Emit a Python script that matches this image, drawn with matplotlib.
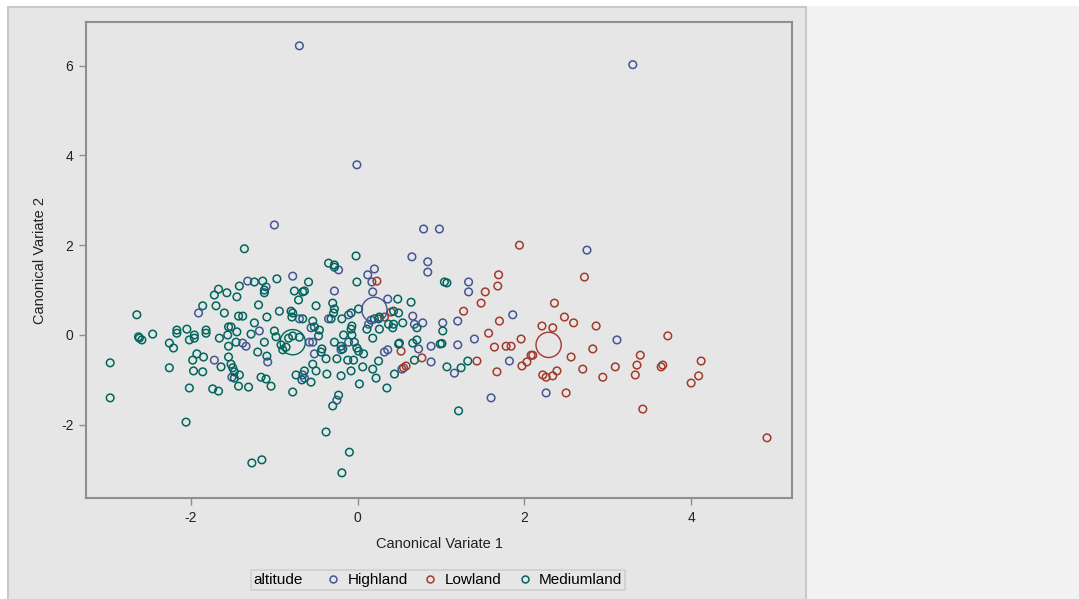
import matplotlib
matplotlib.use("Agg")
import matplotlib.pyplot as plt
from matplotlib.patches import Rectangle
from matplotlib.lines import Line2D
from matplotlib.offsetbox import HPacker

plt.rcParams['font.family'] = ['Liberation Sans', 'DejaVu Sans']
plt.rcParams['axes.unicode_minus'] = False

groups = ["Highland", "Lowland", "Mediumland"]
colors = ["#445694", "#A23A2E", "#01665E"]

# Highland
high_x = [-0.70, 3.30, -0.01, -1.00, 0.79, 0.98, 2.75, 0.65, 0.84, 0.84,
          1.33, 1.33, 1.86, 1.20, 1.02, 1.40, 1.20, 1.82, 1.16, 1.60,
          2.26, 3.11, 0.66, 0.78, 0.73, 0.88, 0.53, 0.88, -0.23, 0.20,
          0.12, 0.17, 0.18, -0.78, -0.28, 0.36, -0.70, -0.11, 0.16, 0.13,
          0.68, -0.35, -1.32, -1.10, -1.91, -1.18, -1.38, -1.34, -1.08, -1.72,
          -1.51, -0.56, -0.58, -0.54, -0.11, -0.20, -0.52, 0.32, 0.36, -0.66,
          -0.64, -0.25]
high_y = [6.44, 6.02, 3.79, 2.45, 2.36, 2.36, 1.89, 1.74, 1.63, 1.40,
          1.18, 0.96, 0.45, 0.31, 0.27, -0.09, -0.22, -0.58, -0.85, -1.40,
          -1.29, -0.11, 0.42, 0.27, -0.31, -0.25, -0.76, -0.60, 1.45, 1.47,
          1.34, 1.18, 0.96, 1.31, 0.98, 0.80, 0.36, 0.45, 0.33, 0.24,
          0.24, 0.36, 1.20, 1.07, 0.49, 0.09, -0.18, -0.25, -0.60, -0.56,
          -0.94, 0.16, -0.16, -0.16, -0.16, -0.33, -0.42, -0.38, -0.33, -0.89,
          -0.96, -1.45]

# Lowland
low_x = [1.94, 2.72, 1.69, 1.68, 1.53, 1.48, 1.27, 2.36, 1.70, 2.48,
         2.59, 2.86, 2.21, 2.34, 1.57, 1.96, 1.64, 1.78, 1.84, 2.82,
         2.56, 1.43, 2.08, 2.10, 2.03, 1.97, 1.67, 2.22, 2.26, 2.34,
         2.39, 2.70, 2.94, 2.50, 3.72, 3.39, 3.35, 3.09, 3.33, 3.64,
         3.66, 4.12, 4.09, 4.00, 3.42, 4.91, 0.23, 0.32, 0.40, 0.52,
         0.77, 0.58, 0.55]
low_y = [2.00, 1.29, 1.34, 1.09, 0.96, 0.71, 0.53, 0.71, 0.31, 0.40,
         0.27, 0.20, 0.20, 0.16, 0.04, -0.09, -0.27, -0.25, -0.25, -0.31,
         -0.49, -0.58, -0.45, -0.45, -0.60, -0.69, -0.82, -0.89, -0.94, -0.91,
         -0.80, -0.76, -0.94, -1.29, -0.02, -0.45, -0.67, -0.71, -0.89, -0.71,
         -0.67, -0.58, -0.91, -1.07, -1.65, -2.29, 1.20, 0.40, 0.51, -0.36,
         -0.51, -0.69, -0.73]

# Mediumland
med_x = [1.04, 1.07, 1.02, 0.99, 1.01, 1.32, 1.24, 1.07, 1.21, 0.64,
         0.54, 0.71, 0.50, 0.66, 0.71, 0.68,
         -0.02, -0.35, -0.28, -0.28, -0.01, -0.97, -0.59, -0.76, -0.66, -0.64,
         -0.71, -0.50, -0.30, -0.28, 0.48, 0.01, -0.94, -0.80, -0.78, -0.66,
         -0.79, -0.29, -0.32, -0.19, -0.08, -0.07, 0.20, 0.25, 0.26, 0.43,
         0.49, 0.37, 0.43, -0.54, -0.52,
         -1.36, -1.24, -1.14, -1.12, -1.12, -1.42, -1.67, -1.57, -1.72, -1.45,
         -1.86, -1.70, -1.60, -1.19, -1.43, -1.38, -2.65, -1.24, -1.09, -2.05,
         -2.17, -1.82, -1.55, -1.52,
         -2.62, -2.59, -2.63, -2.46, -2.17, -1.96, -1.96, -2.02, -1.82, -2.26,
         -2.21, -1.66, -1.56, -1.45, -1.28, -1.12, -1.55, -1.46, -1.20, -1.09,
         -1.55, -1.93, -1.98, -1.85, -1.64, -1.52, -1.50, -1.48, -1.42, -1.48,
         -1.31, -1.43, -1.16, -1.10, -1.97, -1.86, -2.26, -2.02, -1.74, -1.67,
         -2.97, -2.97, -2.06,
         -1.00, -0.46, -0.47, -0.28, -0.17, -0.08, -0.07, -0.04, -0.01, -0.20,
         -0.18, -0.43, -0.44, 0.01, 0.07, -0.38, -0.25, -0.12, -0.05, 0.18,
         0.11, 0.26, 0.42, 0.49, 0.44, 0.35, 0.25, 0.18, 0.22, 0.06,
         -0.08, 0.02, -0.20, -0.37, -0.54, -0.50, -0.64, -0.74, -0.67, -0.56,
         -1.04, -0.78, -0.23, -0.30,
         -0.83, -0.78, -0.86, -0.92, -0.70, -0.90, -0.98,
         -0.38, -0.10, -0.19, -1.27, -1.15]
med_y = [1.18, 1.16, 0.09, -0.20, -0.19, -0.58, -0.73, -0.71, -1.69, 0.73,
         0.27, 0.16, -0.18, -0.18, -0.11, -0.56,
         1.76, 1.60, 1.56, 1.51, 1.18, 1.25, 1.18, 0.98, 0.96, 0.98,
         0.78, 0.65, 0.71, 0.58, 0.80, 0.58, 0.53, 0.53, 0.49, 0.36,
         0.40, 0.49, 0.36, 0.36, 0.49, 0.20, 0.36, 0.36, 0.40, 0.53,
         0.49, 0.24, 0.24, 0.31, 0.18,
         1.92, 1.18, 1.20, 1.00, 0.94, 1.09, 1.02, 0.94, 0.89, 0.85,
         0.65, 0.65, 0.49, 0.67, 0.42, 0.42, 0.45, 0.27, 0.40, 0.13,
         0.11, 0.11, 0.18, 0.18,
         -0.07, -0.11, -0.04, 0.02, 0.04, 0.00, -0.07, -0.11, 0.04, -0.18,
         -0.29, -0.07, 0.00, 0.07, 0.02, -0.16, -0.25, -0.16, -0.38, -0.47,
         -0.49, -0.42, -0.56, -0.49, -0.71, -0.65, -0.73, -0.82, -0.89, -0.96,
         -1.16, -1.14, -0.94, -0.98, -0.80, -0.82, -0.73, -1.18, -1.20, -1.25,
         -0.62, -1.40, -1.94,
         0.09, 0.11, -0.02, -0.16, 0.00, 0.13, 0.00, -0.16, -0.29, -0.25,
         -0.31, -0.31, -0.38, -0.36, -0.42, -0.53, -0.53, -0.56, -0.56, -0.07,
         0.13, 0.13, 0.16, -0.20, -0.87, -1.18, -0.58, -0.76, -0.96, -0.71,
         -0.80, -1.09, -0.91, -0.87, -0.65, -0.80, -0.80, -0.89, -1.00, -1.05,
         -1.14, -1.27, -1.34, -1.58,
         -0.07, -0.02, -0.27, -0.22, -0.05, -0.33, -0.04,
         -2.16, -2.61, -3.07, -2.85, -2.78]

# group centroids
cent_x = [0.20, 2.29, -0.78]
cent_y = [0.56, -0.22, -0.16]

W, H = 1079, 599
fig = plt.figure(figsize=(W / 100, H / 100), dpi=100)
fig.patch.set_facecolor("white")

# background panels
fig.add_artist(Rectangle((806 / W, 0), (W - 806) / W, (H - 6) / H,
                         transform=fig.transFigure, fc="#f2f2f2", ec="none", zorder=-20))
fig.add_artist(Rectangle((8 / W, -0.01), 798 / W, (H - 7) / H + 0.01,
                         transform=fig.transFigure, fc="#e6e6e6", ec="#c9c9c9",
                         lw=1.5, zorder=-10))

ax = fig.add_axes([86 / W, 1 - 498 / H, (792 - 86) / W, (498 - 22) / H])
ax.set_facecolor("#e6e6e6")
for s in ax.spines.values():
    s.set_color("#8e8e8e")
    s.set_linewidth(1.5)

series = [(high_x, high_y), (low_x, low_y), (med_x, med_y)]
for (xs, ys), c in zip(series, colors):
    ax.scatter(xs, ys, s=30, facecolors="none", edgecolors=c, linewidths=1.1, zorder=3)

for cx, cy, c in zip(cent_x, cent_y, colors):
    ax.scatter([cx], [cy], s=330, facecolors="none", edgecolors=c, linewidths=1.0, zorder=4)

ax.set_xlim(-3.26, 5.21)
ax.set_ylim(-3.63, 6.97)
ax.set_xticks([-2, 0, 2, 4])
ax.set_yticks([-2, 0, 2, 4, 6])
ax.tick_params(direction="out", length=5, width=1, color="#8e8e8e",
               labelsize=10, labelcolor="#222222", pad=4)
ax.set_xlabel("Canonical Variate 1", fontsize=10.5, color="#222222", labelpad=9)
ax.set_ylabel("Canonical Variate 2", fontsize=10.5, color="#222222", labelpad=10)

handles = [Line2D([], [], ls="none", marker="o", ms=5, mfc="none", mec=c, mew=1.1)
           for c in colors]
leg = fig.legend(handles, groups, title="altitude", ncol=3, loc="center",
                 bbox_to_anchor=(438 / W, 1 - 580 / H), frameon=True,
                 fontsize=11, title_fontsize=11, handletextpad=0.45,
                 columnspacing=1.0, borderpad=0.2, handlelength=1.0,
                 fancybox=False)
leg.get_frame().set_facecolor("#e6e6e6")
leg.get_frame().set_edgecolor("#c9c9c9")
leg.get_frame().set_linewidth(1.2)

# put the title on the same row as the entries
box = leg._legend_box
title_box, entry_box = box.get_children()
box._children = [HPacker(children=[title_box, entry_box], align="center", pad=0, sep=16)]

fig.savefig("out.png", dpi=100, facecolor=fig.get_facecolor())
